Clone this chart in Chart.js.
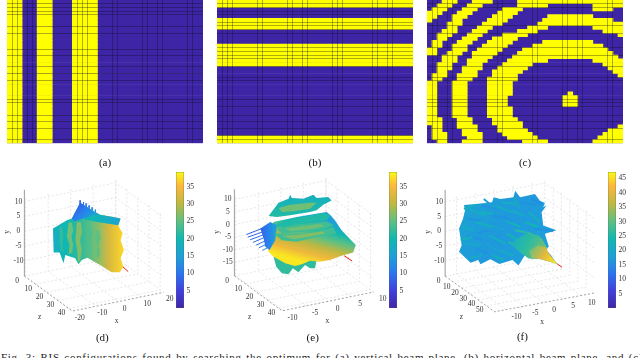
<!DOCTYPE html>
<html>
<head>
<meta charset="utf-8">
<script src="https://cdn.jsdelivr.net/npm/chart.js@4"></script>
<style>
html, body { margin: 0; padding: 0; background: #fff; overflow: hidden; width: 640px; height: 358px; }
canvas { position: absolute; filter: blur(0.35px); }
#caption { position: absolute; left: 1px; top: 351px; white-space: nowrap; font: 11px "Liberation Serif", serif; letter-spacing: 0.7px; word-spacing: 1.2px; color: #222; }
</style>
</head>
<body>
<div id="caption">Fig. 3: RIS configurations found by searching the optimum for (a) vertical beam-plane, (b) horizontal beam-plane, and (c)</div>
<script>
const gridSize = 39;

// yellow runs [from, to) for every row of the RIS grids
const stripesA = [[0,3],[6,9],[13,18]];
const bandsB = [[0,2],[5,8],[12,18],[37,39]];
const rowsC = [
  [[3,6],[9,13],[18,39]],
  [[2,5],[8,11],[18,24],[33,39]],
  [[1,4],[7,10],[15,19],[33,37]],
  [[0,3],[6,9],[14,18]],
  [[0,2],[5,8],[13,17],[24,33]],
  [[0,1],[5,7],[12,16],[23,37]],
  [[4,7],[11,15],[22,39]],
  [[4,6],[10,13],[20,24],[33,39]],
  [[3,6],[9,12],[18,22],[35,39]],
  [[2,5],[8,11],[15,20],[38,39]],
  [[2,4],[7,10],[13,18]],
  [[1,3],[6,9],[12,17],[23,33]],
  [[1,3],[5,8],[11,16],[21,35]],
  [[0,2],[5,8],[10,15],[19,36]],
  [[0,2],[4,7],[9,14],[18,37]],
  [[3,6],[9,13],[17,38]],
  [[3,6],[8,12],[16,24],[33,39]],
  [[2,5],[8,11],[15,21],[35,39]],
  [[2,5],[7,11],[14,20],[36,39]],
  [[2,4],[7,10],[13,19],[37,39]],
  [[1,4],[6,10],[13,18],[38,39]],
  [[1,3],[6,9],[12,18]],
  [[0,2],[5,8],[12,17]],
  [[0,2],[5,8],[12,17]],
  [[0,2],[5,8],[12,17]],
  [[0,2],[5,8],[12,17],[28,29]],
  [[0,2],[5,8],[12,16],[27,30]],
  [[0,2],[5,8],[12,16],[27,30]],
  [[0,2],[5,8],[12,16],[27,30]],
  [[0,2],[5,8],[12,17]],
  [[0,2],[5,8],[12,17]],
  [[0,2],[5,8],[12,17]],
  [[0,3],[6,9],[13,18]],
  [[0,3],[6,9],[13,19]],
  [[1,3],[6,10],[14,19],[38,39]],
  [[1,3],[7,10],[14,20],[36,39]],
  [[1,4],[7,11],[15,21],[35,39]],
  [[1,4],[8,11],[16,22],[34,39]],
  [[2,4],[7,11],[19,24],[33,39]]
];

// the dark lines across the grids
const vLinesA = [1,2,4,5,14,15,16,21,22,27,28,30,31,36,37];
const hLinesA = [1,2,3,4,7.3,9,13.6,15,18,20,22,27,28,31.4,33,35,38];
const vLinesB = [1,2,3,8,9,14,15,17,18,23,24,25,31,32,34,35];
const hLinesB = [1,2,3,4,6,7,8,9,13,14,15,16,18,21,22,27,29,31.4,33,35,37,38];
const vLinesC = [1,2,4,5,14,15,21,22,27,28,30,31,36,37];
const hLinesC = [1,2,7,9,13,15,18,21,22,27,28,29,31.4,33,35,38];

// colour bars
const ticksD = [5,10,15,20,25,30,35];
const ticksE = [5,10,15,20,25,30,35];
const ticksF = [5,10,15,20,25,30,35,40,45];
const maxD = 39.2, maxE = 39.2, maxF = 47.2;

// 3D axis ticks
const xTicksD = [-20,-10,0,10,20], yTicksD = [-10,-5,0,5,10], zTicksD = [0,10,20,30,40];
const xTicksE = [-10,-5,0,5,10], yTicksE = [-15,-10,-5,0,5,10], zTicksE = [0,10,20,30,40];
const xTicksF = [-10,-5,0,5,10], yTicksF = [-10,-5,0,5,10], zTicksF = [0,10,20,30,40,50];

// surfaces, in view-plane units (one third of a px), each filled with the value shown
const dOutline = [[240,112],[285,140],[300,148],[340,155],[362,160],[355,180],[368,205],[362,225],[372,255],[362,280],[370,305],[360,322],[335,322],[300,300],[262,278],[245,285],[235,298],[225,280],[195,270],[190,295],[178,262],[160,262],[158,190],[200,165],[215,160],[228,135]];
const dFan = [[240,112],[285,140],[300,148],[275,155],[250,160],[222,168],[215,160],[228,135]];
const dTop = [[275,150],[300,148],[340,155],[362,160],[355,180],[320,175],[290,170],[250,162]];
const dRibs = [
  [[178,185],[186,183],[190,215],[186,240],[191,262],[182,258],[178,225]],
  [[205,172],[215,172],[219,195],[214,215],[219,240],[216,262],[205,268],[208,240],[200,215]],
  [[230,170],[242,170],[246,200],[240,225],[245,255],[240,285],[234,292],[231,255],[226,225]],
  [[262,185],[272,185],[276,205],[270,230],[275,250],[270,270],[262,265],[265,240],[259,215]],
  [[288,195],[298,195],[302,220],[296,240],[300,260],[296,280],[288,272],[291,245],[285,220]]
];
const dSpikes = [
  [240,105,240,122,8],[250,110,250,128,9],[258,114,258,132,10],[267,120,267,138,11],[276,126,276,141,12],[286,133,286,146,13]
];
const eWire = [[190,275],[198,305],[215,325],[235,328],[248,310],[265,322],[285,300],[300,310],[315,310],[320,285],[300,280]];
const eTopLayer = [[175,152],[205,112],[235,100],[240,88],[245,98],[280,100],[310,88],[320,98],[355,95],[365,105],[340,118],[320,135],[300,140],[240,150],[200,155]];
const eTopCore = [[205,128],[240,118],[300,112],[320,112],[300,130],[250,138],[215,140]];
const eBody = [[190,170],[260,155],[350,140],[362,150],[375,165],[395,195],[438,240],[430,262],[395,272],[360,285],[330,290],[300,287],[275,298],[255,303],[225,295],[190,275],[175,260],[172,220]];
const eFan = [[150,190],[180,170],[200,180],[195,225],[178,255],[165,245],[160,220]];
const eDisc1 = [[195,178],[250,160],[340,143],[362,150],[350,165],[300,172],[230,185],[200,185]];
const eDisc2 = [[200,190],[260,178],[350,168],[372,180],[340,192],[280,200],[215,205]];
const eDisc3 = [[190,205],[240,205],[290,205],[370,185],[380,205],[320,215],[260,230],[215,225]];
const eCore2 = [[225,190],[270,184],[330,176],[345,182],[300,192],[240,198]];
const eCore3 = [[215,212],[270,208],[340,198],[345,205],[290,216],[250,222]];
const eSpikes = [
  [108,208,155,190,8],[112,216,158,200,8],[119,224,162,208,9],[128,232,164,216,9],[137,240,168,226,10],[146,248,172,236,11],[156,256,178,245,12]
];
const fOutline = [[115,118],[150,115],[200,110],[205,95],[225,100],[265,95],[270,75],[285,95],[330,85],[345,105],[360,112],[355,125],[365,120],[350,140],[355,180],[395,195],[360,205],[372,245],[362,252],[378,270],[398,298],[375,290],[345,282],[310,280],[300,270],[280,302],[262,285],[222,297],[195,283],[165,298],[158,285],[135,293],[100,260],[108,240],[100,190],[112,160],[118,135]];
const fMiddle = [[255,235],[300,205],[350,218],[368,250],[345,282],[310,280],[285,262]];
const fCone = [[312,258],[340,240],[363,247],[372,265],[398,298],[375,290],[345,282],[320,278]];
const fStreaks = [
  [130,130,180,150,21],[210,120,260,140,21],[290,110,335,120,16],[150,170,200,185,22],[240,165,285,185,23],
  [310,140,345,170,22],[125,210,170,225,16],[190,210,240,235,22],[270,195,320,205,26],[300,225,335,235,28],
  [150,250,190,265,16],[220,255,265,272,21],[330,190,385,197,16],[125,160,165,165,16],[200,150,250,160,16],
  [170,120,215,130,16],[250,230,300,260,26],[285,240,320,265,28],[115,130,150,118,22],[110,185,145,195,21],
  [120,235,165,240,20],[155,205,190,195,16],[200,180,235,195,19],[255,135,300,150,21],[300,170,340,185,24],
  [245,205,280,225,24],[180,235,215,255,19],[230,110,275,115,22],[160,140,205,145,22],[260,170,235,150,16],
  [285,140,320,130,17],[135,280,170,270,21],[200,270,235,285,22],[320,100,350,115,15],[265,95,285,130,21],
  [105,225,140,215,23],[175,100,205,125,18],[310,205,345,215,27]
];

// line from the array, in view-plane units
const redD = [[365,302],[385,320]];
const redE = [[403,272],[427,288]];
const redF = [[395,295],[412,307]];

const paruStops = [[0,'#3e26a8'],[0.13,'#4040e0'],[0.26,'#2a78f0'],[0.38,'#1da0d8'],[0.51,'#10b8b0'],[0.64,'#60c080'],[0.77,'#c0b840'],[0.9,'#fdb83c'],[1,'#f9fb15']];

function hex(c) { return [1,3,5].map(i => parseInt(c.substr(i,2),16)); }
function paru(f) {
  f = Math.min(1, Math.max(0, f));
  for (let i = 1; i < paruStops.length; i++) {
    if (f <= paruStops[i][0]) {
      const a = paruStops[i-1], b = paruStops[i], t = (f-a[0])/(b[0]-a[0]);
      const ca = hex(a[1]), cb = hex(b[1]);
      return `rgb(${ca.map((v,k) => Math.round(v+(cb[k]-v)*t)).join(',')})`;
    }
  }
  return paruStops[paruStops.length-1][1];
}

function addCanvas(left, top, w, h) {
  const c = document.createElement('canvas');
  c.width = w; c.height = h;
  c.style.left = left+'px'; c.style.top = top+'px';
  c.style.width = w+'px'; c.style.height = h+'px';
  document.body.appendChild(c);
  return c;
}

// RIS grid: a blue block per row, yellow floating bars on top and the dark lines as the axis grid
function gridChart(left, rows, vLines, hLines, label) {
  const blue = [], yellow = [];
  rows.forEach((runs, r) => {
    blue.push({y: r+0.5, x: [0, gridSize]});
    runs.forEach(run => yellow.push({y: r+0.5, x: run}));
  });
  const lineGrid = {color: 'rgba(15,15,30,0.42)', lineWidth: 0.8, z: 1, drawTicks: false, offset: false};
  new Chart(addCanvas(left, 0, 196, 174), {
    type: 'bar',
    data: {datasets: [
      {data: yellow, backgroundColor: '#ffff00', grouped: false, barPercentage: 1, categoryPercentage: 1},
      {data: blue, backgroundColor: '#3d25a6', grouped: false, barPercentage: 1, categoryPercentage: 1}
    ]},
    options: {
      indexAxis: 'y', responsive: false, animation: false,
      layout: {padding: 0},
      plugins: {legend: {display: false}, tooltip: {enabled: false}},
      scales: {
        x: {
          type: 'linear', min: 0, max: gridSize, offset: false,
          grid: lineGrid, border: {display: false}, ticks: {display: false},
          afterBuildTicks: s => { s.ticks = vLines.map(v => ({value: v})); },
          afterFit: s => { s.height = 30.7; },
          title: {display: true, text: label, color: '#111', font: {family: 'Liberation Serif', size: 11}}
        },
        y: {
          type: 'linear', min: 0, max: gridSize, reverse: true, offset: false,
          grid: lineGrid, border: {display: false}, ticks: {display: false},
          afterBuildTicks: s => { s.ticks = hLines.map(v => ({value: v})); },
          afterFit: s => { s.width = 0; }
        }
      }
    }
  });
}

function colorBar(left, ticks, maxVal) {
  new Chart(addCanvas(left, 165, 30, 150), {
    type: 'bar',
    data: {labels: [''], datasets: [{
      data: [[0, maxVal]],
      barPercentage: 1, categoryPercentage: 1, borderWidth: 0.6, borderColor: '#555', borderSkipped: false,
      backgroundColor: c => {
        const a = c.chart.chartArea;
        if (!a) return '#888';
        const g = c.chart.ctx.createLinearGradient(0, a.bottom, 0, a.top);
        paruStops.forEach(s => g.addColorStop(s[0], s[1]));
        return g;
      }
    }]},
    options: {
      responsive: false, animation: false,
      layout: {padding: {top: 6, bottom: 4.3}},
      plugins: {legend: {display: false}, tooltip: {enabled: false}},
      scales: {
        x: {display: false},
        y: {
          position: 'right', min: 0, max: maxVal,
          grid: {display: false, drawTicks: false}, border: {display: false},
          ticks: {color: '#333', padding: 2.5, font: {family: 'Liberation Serif', size: 7.5}},
          afterBuildTicks: s => { s.ticks = ticks.map(v => ({value: v})); },
          afterFit: s => { s.width = 22; }
        }
      }
    }
  });
}

// captions and tick labels, placed through the same scales as the marks
function textPlugin(items) {
  return {
    id: 'panelText',
    afterDraw(chart) {
      const ctx = chart.ctx, xs = chart.scales.x, ys = chart.scales.y;
      ctx.save();
      ctx.textAlign = 'center'; ctx.textBaseline = 'middle';
      items.forEach(it => {
        ctx.save();
        ctx.fillStyle = it.color || '#333';
        ctx.font = `${it.size || 7.5}px "Liberation Serif"`;
        ctx.translate(xs.getPixelForValue(it.u), ys.getPixelForValue(it.v));
        if (it.rot) ctx.rotate(it.rot);
        ctx.fillText(it.t, 0, 0);
        ctx.restore();
      });
      ctx.restore();
    }
  };
}

function panel3d(left, cfg) {
  const P = (x, y, z) => {
    const dx = x-cfg.xmin;
    return {x: cfg.u0+dx*cfg.ex[0]+z*cfg.ez[0], y: cfg.v0-y*cfg.ey+dx*cfg.ex[1]+z*cfg.ez[1]};
  };
  const sets = [];
  const line = (pts, color, width, dash) => sets.push({data: pts, showLine: true, pointRadius: 0, borderColor: color, borderWidth: width, borderDash: dash || [], fill: false, tension: 0});
  const wall = '#dcdcdc', dash = [2,2];
  const ytop = cfg.yTicks[cfg.yTicks.length-1]+1;
  cfg.yTicks.forEach(y => line([P(cfg.xmin,y,0),P(cfg.xmax,y,0),P(cfg.xmax,y,cfg.zmax)], wall, 0.7, dash));
  cfg.xTicks.forEach(x => {
    line([P(x,ytop,0),P(x,cfg.ymin,0),P(x,cfg.ymin,cfg.zmax)], wall, 0.7, dash);
  });
  cfg.zTicks.forEach(z => {
    line([P(cfg.xmin,cfg.ymin,z),P(cfg.xmax,cfg.ymin,z),P(cfg.xmax,ytop,z)], wall, 0.7, dash);
  });
  line([P(cfg.xmin,cfg.ymin,0),P(cfg.xmin,cfg.ymax,0)], '#aaa', 1.2);
  line([P(cfg.xmin,cfg.ymin,0),P(cfg.xmin,cfg.ymin,cfg.zmax),P(cfg.xmax,cfg.ymin,cfg.zmax)], '#777', 0.7, dash);
  line(cfg.red.map(p => ({x: p[0], y: p[1]})), '#f01818', 1);
  (cfg.spikes || []).forEach(s => line([{x:s[0],y:s[1]},{x:s[2],y:s[3]}], paru(s[4]/cfg.vmax), 1));
  cfg.layers.forEach(l => {
    const pts = l.pts.concat([l.pts[0]]).map(p => ({x: p[0], y: p[1]}));
    let fill;
    if (l.vals.length === 1) {
      fill = paru(l.vals[0]/cfg.vmax);
    } else {
      fill = c => {
        const xs = c.chart.scales.x, ys = c.chart.scales.y;
        const ends = [xs.getPixelForValue(l.dir[0]), ys.getPixelForValue(l.dir[1]), xs.getPixelForValue(l.dir[2]), ys.getPixelForValue(l.dir[3])];
        if (!ends.every(Number.isFinite)) return paru(l.vals[0]/cfg.vmax);
        const g = c.chart.ctx.createLinearGradient(ends[0], ends[1], ends[2], ends[3]);
        l.vals.forEach((v, i) => g.addColorStop(i/(l.vals.length-1), paru(v/cfg.vmax)));
        return g;
      };
    }
    sets.push({data: pts, showLine: true, pointRadius: 0, borderWidth: 0, backgroundColor: fill, fill: 'shape', tension: 0});
    if (l.streaks) l.streaks.forEach(s => line([{x:s[0],y:s[1]},{x:s[2],y:s[3]}], paru(s[4]/cfg.vmax), 2));
  });
  sets.forEach((s, i) => { s.order = -i; });

  const items = [];
  const tickLabel = (ticks, pos, off) => ticks.forEach(t => {
    const p = pos(t);
    items.push({t: String(t), u: p.x+off[0], v: p.y+off[1]});
  });
  tickLabel(cfg.xTicks, x => P(x,cfg.ymin,cfg.zmax), cfg.xOff);
  tickLabel(cfg.yTicks, y => P(cfg.xmin,y,0), cfg.yOff);
  tickLabel(cfg.zTicks, z => P(cfg.xmin,cfg.ymin,z), cfg.zOff);
  cfg.names.forEach(n => items.push(n));

  const chart = new Chart(addCanvas(left, 165, 215, 193), {
    type: 'scatter',
    data: {datasets: sets},
    options: {
      responsive: false, animation: false,
      layout: {padding: 0},
      plugins: {legend: {display: false}, tooltip: {enabled: false}},
      scales: {
        x: {display: false, min: 0, max: 645},
        y: {display: false, min: 0, max: 579, reverse: true}
      }
    },
    plugins: [textPlugin(items)]
  });
  chart.update();
}

panel3d(0, {
  u0: 72, v0: 198, ex: [6.8,-1.4], ey: 8.94, ez: [3.35,2.45],
  xmin: -20.5, xmax: 20, ymin: -15.2, ymax: 14, zmax: 43, vmax: maxD,
  xTicks: xTicksD, yTicks: yTicksD, zTicks: zTicksD,
  xOff: [19,21], yOff: [-18,0], zOff: [-22,14], red: redD, spikes: dSpikes,
  layers: [
    {pts: dOutline, vals: [18,20,22,26,32,37], dir: [160,0,368,0]},
    {pts: dFan, vals: [8,11,15], dir: [225,125,260,165]},
    {pts: dTop, vals: [15,18,20], dir: [360,150,270,165]},
    {pts: dRibs[0], vals: [22]}, {pts: dRibs[1], vals: [26]}, {pts: dRibs[2], vals: [27]}, {pts: dRibs[3], vals: [24]}, {pts: dRibs[4], vals: [25]}
  ],
  names: [
    {t: 'y', u: 18, v: 200, rot: -Math.PI/2}, {t: 'z', u: 118, v: 458}, {t: 'x', u: 350, v: 470},
    {t: '(d)', u: 307, v: 520, size: 11, color: '#111'}
  ]
});
panel3d(210, {
  u0: 72, v0: 178, ex: [13.6,-2.8], ey: 7.6, ez: [3.35,2.45],
  xmin: -10.3, xmax: 10, ymin: -20.4, ymax: 14, zmax: 43, vmax: maxE,
  xTicks: xTicksE, yTicks: yTicksE, zTicks: zTicksE,
  xOff: [27,22], yOff: [-20,0], zOff: [-22,14], red: redE, spikes: eSpikes,
  layers: [
    {pts: eWire, vals: [22]},
    {pts: eBody, vals: [15,20,25,30,34,38], dir: [340,165,305,295]},
    {pts: eFan, vals: [8,11,15], dir: [150,210,195,210]},
    {pts: eTopLayer, vals: [18,21], dir: [250,90,250,150]},
    {pts: eTopCore, vals: [26]},
    {pts: eDisc1, vals: [21]}, {pts: eDisc2, vals: [23]}, {pts: eDisc3, vals: [23]},
    {pts: eCore2, vals: [26]}, {pts: eCore3, vals: [27]}
  ],
  names: [
    {t: 'y', u: 18, v: 200, rot: -Math.PI/2}, {t: 'z', u: 118, v: 458}, {t: 'x', u: 352, v: 470},
    {t: '(e)', u: 308, v: 520, size: 11, color: '#111'}
  ]
});
panel3d(425, {
  u0: 58, v0: 198, ex: [11.4,-2.15], ey: 8.94, ez: [2.5,1.8],
  xmin: -13, xmax: 13.5, ymin: -15.2, ymax: 14, zmax: 60, vmax: maxF,
  xTicks: xTicksF, yTicks: yTicksF, zTicks: zTicksF,
  xOff: [32,22], yOff: [-18,0], zOff: [-20,14], red: redF,
  layers: [
    {pts: fOutline, vals: [19,17,18], dir: [100,100,360,280], streaks: fStreaks},
    {pts: fMiddle, vals: [21,26,31], dir: [255,215,350,265]},
    {pts: fCone, vals: [31,40,46], dir: [320,245,395,295]}
  ],
  names: [
    {t: 'y', u: 5, v: 200, rot: -Math.PI/2}, {t: 'z', u: 107, v: 458}, {t: 'x', u: 352, v: 472},
    {t: '(f)', u: 292, v: 520, size: 11, color: '#111'}
  ]
});

gridChart(7.3, Array.from({length: gridSize}, () => stripesA), vLinesA, hLinesA, '(a)');
gridChart(217.3, Array.from({length: gridSize}, (v, r) => bandsB.some(b => r >= b[0] && r < b[1]) ? [[0, gridSize]] : []), vLinesB, hLinesB, '(b)');
gridChart(427.3, rowsC, vLinesC, hLinesC, '(c)');

colorBar(176, ticksD, maxD);
colorBar(389, ticksE, maxE);
colorBar(608.3, ticksF, maxF);
</script>
</body>
</html>
